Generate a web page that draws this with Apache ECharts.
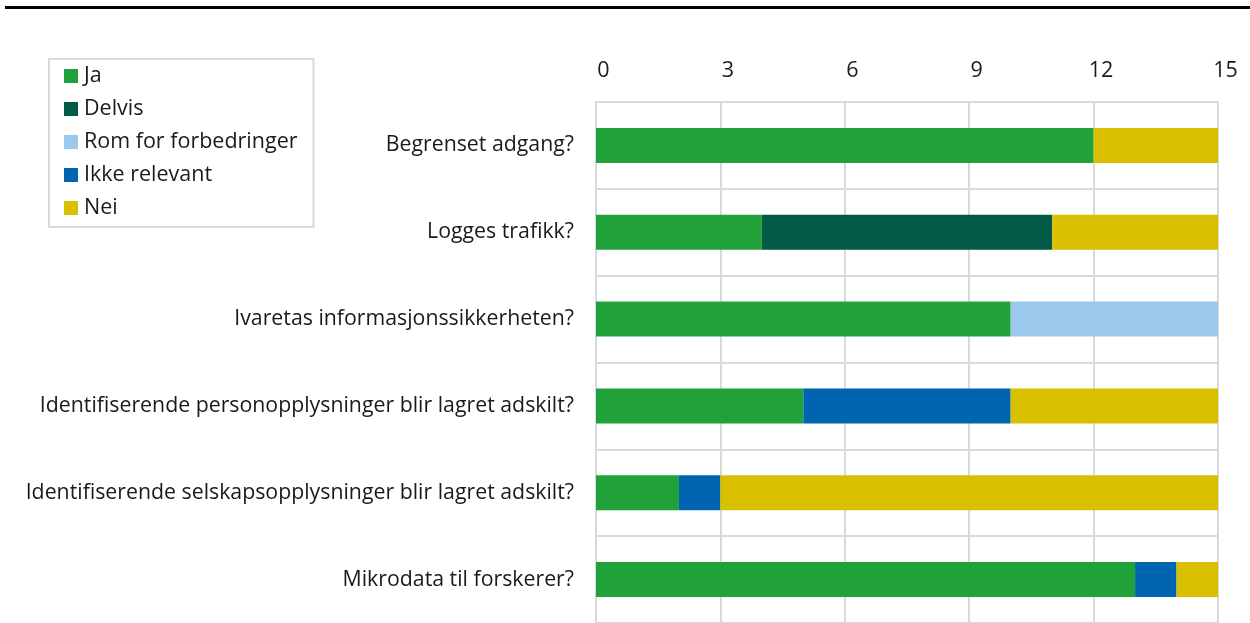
<!DOCTYPE html>
<html>
<head>
<meta charset="utf-8">
<script src="https://cdn.jsdelivr.net/npm/echarts@6/dist/echarts.min.js"></script>
<style>html,body{margin:0;padding:0;background:#fff}#c{width:1250px;height:623px}</style>
</head>
<body>
<div id="c"></div>
<script>
const categories = ["Begrenset adgang?", "Logges trafikk?", "Ivaretas informasjonssikkerheten?", "Identifiserende personopplysninger blir lagret adskilt?", "Identifiserende selskapsopplysninger blir lagret adskilt?", "Mikrodata til forskerer?"];
const seriesNames = ["Ja", "Delvis", "Rom for forbedringer", "Ikke relevant", "Nei"];
const ja = [12, 4, 10, 5, 2, 13];
const delvis = [0, 7, 0, 0, 0, 0];
const romForForbedringer = [0, 0, 5, 0, 0, 0];
const ikkeRelevant = [0, 0, 0, 5, 1, 1];
const nei = [3, 4, 0, 5, 12, 1];
const xTicks = [0, 3, 6, 9, 12, 15];

const colors = ["#21a13a", "#005a46", "#9bc8ec", "#0065b1", "#d8c000"];
const values = [ja, delvis, romForForbedringer, ikkeRelevant, nei];
const font = "'Open Sans', sans-serif";
const fs = 21.5;

const chart = echarts.init(document.getElementById('c'), null, {renderer: 'canvas'});
chart.setOption({
  animation: false,
  textStyle: {fontFamily: font},
  graphic: [{type: 'rect', shape: {x: 5, y: 6, width: 1250, height: 3}, style: {fill: '#000'}}],
  legend: {
    orient: 'vertical', left: 49, top: 59,
    padding: [6, 16, 8, 15],
    borderColor: '#d9d9d9', borderWidth: 2,
    itemWidth: 14, itemHeight: 14, itemGap: 11,
    icon: 'rect',
    textStyle: {fontFamily: font, fontSize: fs, color: '#1a1a1a', lineHeight: 21, padding: [0, 0, 0, 1]},
    data: seriesNames
  },
  grid: {left: 596, right: 32, top: 102, height: 524, containLabel: false},
  xAxis: {
    type: 'value', position: 'top', min: 0, max: 15, interval: 3,
    axisLine: {show: false}, axisTick: {show: false},
    axisLabel: {fontFamily: font, fontSize: fs, color: '#1a1a1a', margin: 20, padding: [0, 0, 0, 15],
      formatter: v => xTicks.includes(v) ? String(v) : ''},
    splitLine: {show: true, lineStyle: {color: '#d9d9d9', width: 2}}
  },
  yAxis: {
    type: 'category', inverse: true, data: categories,
    axisLine: {show: true, lineStyle: {color: '#d9d9d9', width: 2}},
    axisTick: {show: false},
    axisLabel: {fontFamily: font, fontSize: 21.3, color: '#1a1a1a', margin: 22, padding: [2, 0, 0, 0]},
    splitLine: {show: true, interval: 0, lineStyle: {color: '#d9d9d9', width: 2}}
  },
  series: seriesNames.map((n, i) => ({
    name: n, type: 'bar', stack: 'total', barWidth: 35,
    itemStyle: {color: colors[i]},
    data: values[i]
  }))
});
</script>
</body>
</html>
